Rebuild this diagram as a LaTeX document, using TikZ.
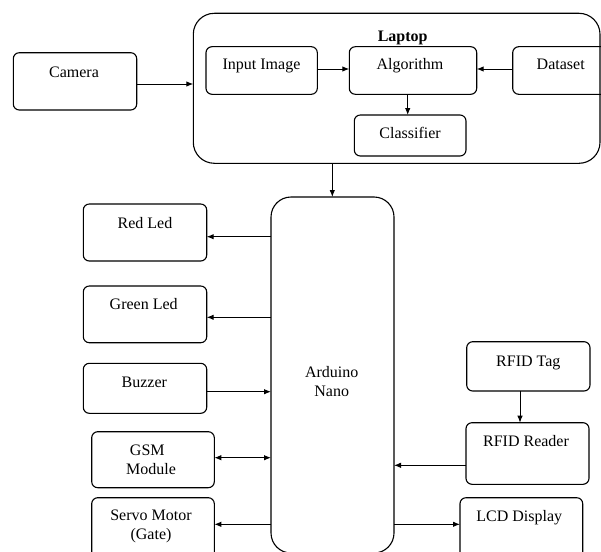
\documentclass[tikz,border=0pt]{standalone}
\usepackage{fontspec}
\setmainfont{Liberation Serif}
\usetikzlibrary{arrows.meta}
\tikzset{
  box/.style={draw, line width=1.1pt, rounded corners=6pt, inner sep=0pt, outer sep=0pt},
  bigbox/.style={box, rounded corners=21pt},
  lbl/.style={font=\fontsize{16}{19}\selectfont, inner sep=0pt, anchor=base},
  arr/.style={line width=1pt, -{Latex[length=7pt,width=5.5pt]}},
  darr/.style={line width=1pt, {Latex[length=7pt,width=5.5pt]}-{Latex[length=7pt,width=5.5pt]}}
}
\begin{document}
\begin{tikzpicture}[x=1pt,y=-1pt]
\clip (0,0) rectangle (601,551);
\fill[white] (0,0) rectangle (601,551);
% boxes
\node[bigbox, minimum width=406.7pt, minimum height=150pt] (laptop) at (396.65,88.3) {};
\node[box, minimum width=123.4pt, minimum height=57.3pt] (camera) at (75,81.35) {};
\node[box, minimum width=111.3pt, minimum height=47.6pt] (input) at (261.65,70.5) {};
\node[box, minimum width=127.4pt, minimum height=47.6pt] (algo) at (413,70.5) {};
\node[box, minimum width=96.3pt, minimum height=47.6pt] (data) at (560.85,70.5) {};
\node[box, minimum width=111.7pt, minimum height=41pt] (class) at (410.15,135.5) {};
\node[bigbox, rounded corners=20pt, minimum width=123pt, minimum height=356pt] (ard) at (332.5,375) {};
\node[box, minimum width=123.4pt, minimum height=57pt] (red) at (145,232.5) {};
\node[box, minimum width=123.4pt, minimum height=56.7pt] (green) at (145,314.35) {};
\node[box, minimum width=123.4pt, minimum height=50pt] (buzz) at (145,388.3) {};
\node[box, minimum width=122.6pt, minimum height=56pt] (gsm) at (153,459.7) {};
\node[box, minimum width=122.6pt, minimum height=62.3pt] (servo) at (153,528.85) {};
\node[box, minimum width=123.3pt, minimum height=49.3pt] (tag) at (528.35,366.35) {};
\node[box, minimum width=123pt, minimum height=61.6pt] (reader) at (527.5,453.5) {};
\node[box, minimum width=122.7pt, minimum height=62.3pt] (lcd) at (521.35,528.85) {};
% labels
\node[lbl, font=\fontsize{16}{19}\selectfont\bfseries] (tlaptop) at (402.7,41.3) {Laptop};
\node[lbl] (tcamera) at (74,77) {Camera};
\node[lbl] (tinput) at (261.5,69.3) {Input Image};
\node[lbl] (talgo) at (410,69.3) {Algorithm};
\node[lbl] (tdata) at (560.7,69.3) {Dataset};
\node[lbl] (tclass) at (410.15,138) {Classifier};
\node[lbl] (tred) at (145,228) {Red Led};
\node[lbl] (tgreen) at (143.7,309.6) {Green Led};
\node[lbl] (tbuzz) at (144.3,387.3) {Buzzer};
\node[lbl] (tgsm1) at (147.3,455.3) {GSM};
\node[lbl] (tgsm2) at (151,474.6) {Module};
\node[lbl] (tservo1) at (151,520.6) {Servo Motor};
\node[lbl] (tservo2) at (151,539.5) {(Gate)};
\node[lbl] (tard1) at (331.7,377) {Arduino};
\node[lbl] (tard2) at (331.7,396.3) {Nano};
\node[lbl] (ttag) at (528.3,366) {RFID Tag};
\node[lbl] (treader) at (526,446.3) {RFID Reader};
\node[lbl] (tlcd) at (519.3,521.3) {LCD Display};
% connectors
\draw[arr] (camera.east |- 0,84) -- (laptop.west |- 0,84);
\draw[arr] (input.east |- 0,69) -- (algo.west |- 0,69);
\draw[arr] (data.west |- 0,69) -- (algo.east |- 0,69);
\draw[arr] (algo.south -| 407.7,0) -- (class.north -| 407.7,0);
\draw[arr] (laptop.south -| 332.3,0) -- (ard.north -| 332.3,0);
\draw[arr] (ard.west |- 0,236.7) -- (red.east |- 0,236.7);
\draw[arr] (ard.west |- 0,317.3) -- (green.east |- 0,317.3);
\draw[arr] (buzz.east |- 0,391.7) -- (ard.west |- 0,391.7);
\draw[darr] (gsm.east |- 0,457.7) -- (ard.west |- 0,457.7);
\draw[arr] (ard.west |- 0,524.3) -- (servo.east |- 0,524.3);
\draw[arr] (tag.south -| 520,0) -- (reader.north -| 520,0);
\draw[arr] (reader.west |- 0,465.3) -- (ard.east |- 0,465.3);
\draw[arr] (ard.east |- 0,524.3) -- (lcd.west |- 0,524.3);
\end{tikzpicture}
\end{document}
